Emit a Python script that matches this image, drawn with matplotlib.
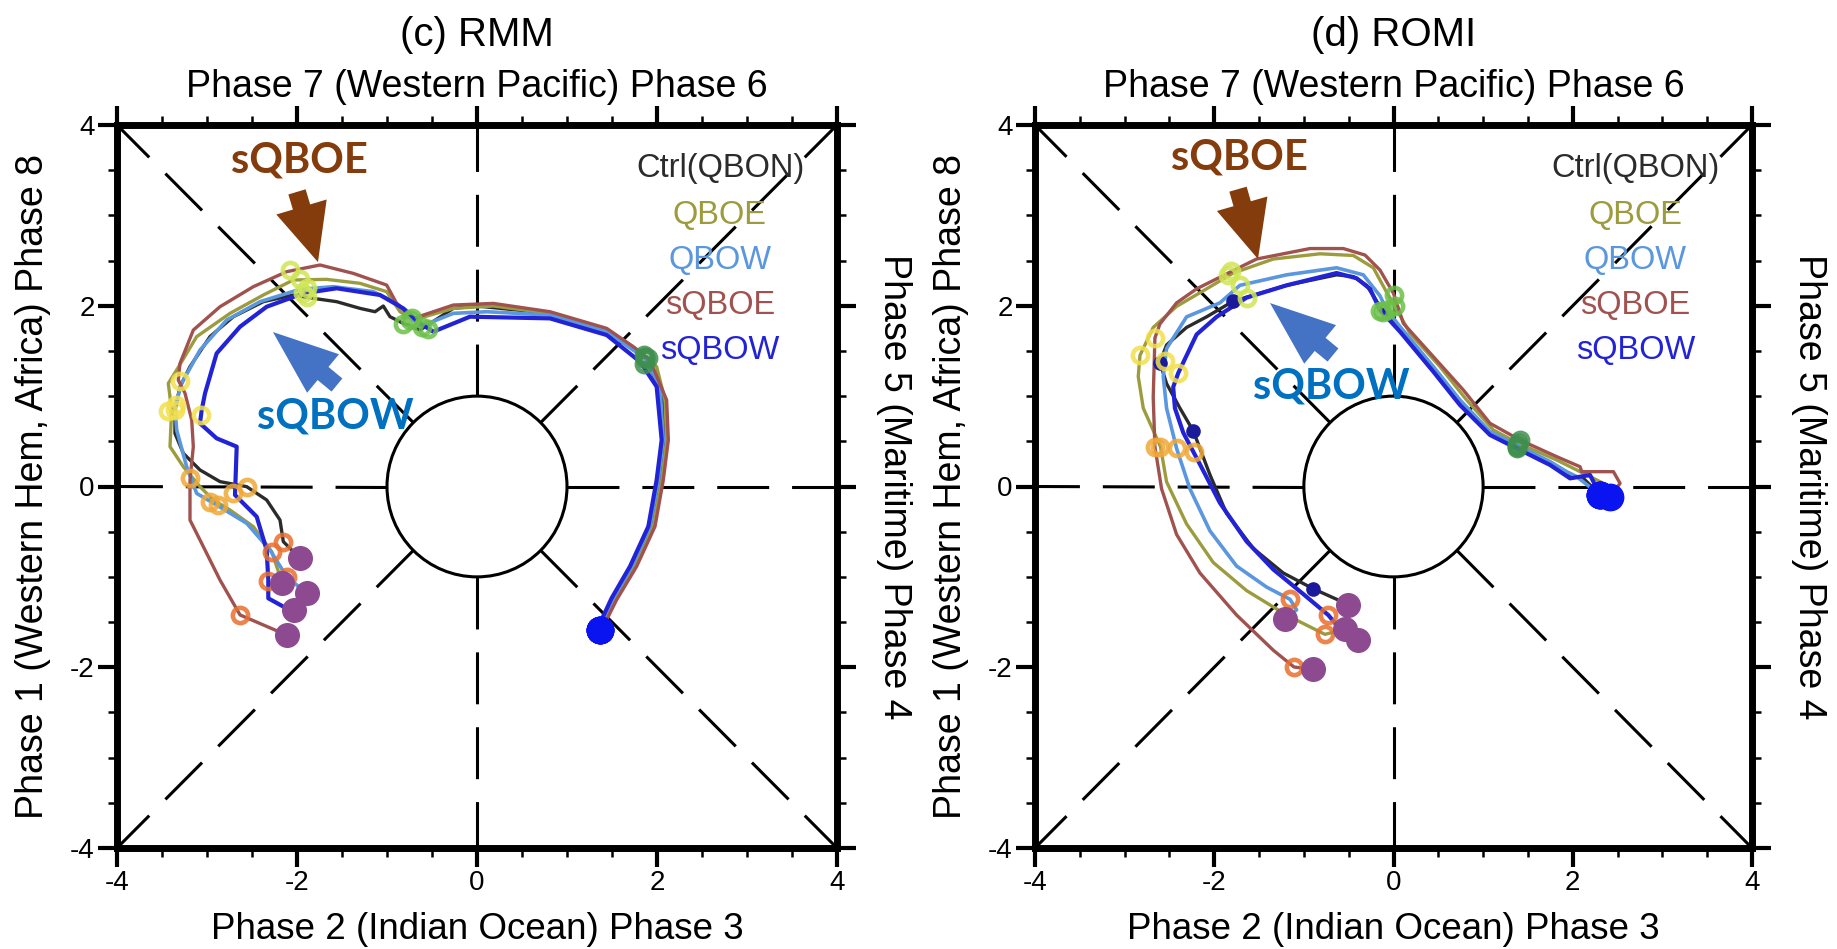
import numpy as np
import matplotlib
matplotlib.use("Agg")
import matplotlib.pyplot as plt
from matplotlib.patches import Circle
from matplotlib.ticker import MultipleLocator

plt.rcParams['font.family'] = ['Liberation Sans', 'DejaVu Sans']
plt.rcParams['axes.unicode_minus'] = False

# ---------------- data ----------------
series_names = ['Ctrl(QBON)', 'QBOE', 'QBOW', 'sQBOE', 'sQBOW']
series_colors = ['#2b2b2b', '#9c9c3e', '#5a97de', '#a0524e', '#2323d6']
series_lw = [2.4, 2.4, 2.6, 2.4, 3.0]

stage_colors = ['#e8702e', '#f0a838', '#f2e04e', '#cfe655', '#6cc04a', '#3f8f4f']
start_color = '#8d4a91'
end_color = '#0a14f0'
navy_color = '#1a1a9a'

# (c) RMM trajectories
rmm_ctrl = [(-1.967, -0.795), (-2.152, -0.610), (-2.189, -0.371), (-2.337, -0.149), (-2.559, -0.002),
            (-2.856, 0.054), (-3.078, 0.183), (-3.263, 0.367), (-3.356, 0.588), (-3.356, 0.846),
            (-3.300, 1.104), (-3.189, 1.326), (-2.967, 1.658), (-2.707, 1.879), (-2.374, 2.045),
            (-2.041, 2.119), (-1.819, 2.082), (-1.559, 2.045), (-1.300, 1.971), (-1.133, 1.934),
            (-1.041, 1.997), (-0.967, 1.879), (-0.819, 1.805), (-0.633, 1.731), (-0.263, 1.971),
            (0.0, 1.997), (0.811, 1.916), (1.441, 1.713), (1.867, 1.436), (2.052, 1.031),
            (2.089, 0.515), (2.033, 0.072), (1.941, -0.441), (1.737, -0.884), (1.533, -1.235),
            (1.404, -1.511), (1.367, -1.587)]
rmm_qboe = [(-2.163, -1.071), (-2.281, -0.721), (-2.485, -0.444), (-2.744, -0.260), (-2.930, -0.149),
            (-3.078, -0.002), (-3.263, 0.219), (-3.411, 0.441), (-3.393, 0.846), (-3.430, 1.141),
            (-3.337, 1.289), (-3.115, 1.658), (-2.744, 1.916), (-2.374, 2.119), (-2.041, 2.285),
            (-1.670, 2.292), (-1.300, 2.248), (-1.004, 2.156), (-0.856, 1.934), (-0.707, 1.842),
            (-0.263, 1.971), (0.181, 1.997), (0.811, 1.916), (1.441, 1.732), (1.811, 1.492),
            (1.996, 1.326), (2.089, 0.957), (2.107, 0.515), (2.052, 0.072), (1.959, -0.441),
            (1.756, -0.884), (1.544, -1.246), (1.411, -1.511), (1.367, -1.587)]
rmm_qbow = [(-1.893, -1.181), (-2.115, -0.997), (-2.300, -0.703), (-2.559, -0.407), (-2.893, -0.205),
            (-3.115, -0.076), (-3.226, 0.219), (-3.337, 0.625), (-3.356, 0.883), (-3.281, 1.141),
            (-3.078, 1.510), (-2.781, 1.842), (-2.411, 2.045), (-1.967, 2.182), (-1.596, 2.211),
            (-1.152, 2.156), (-0.893, 2.026), (-0.633, 1.768), (-0.263, 1.916), (0.107, 1.934),
            (0.811, 1.897), (1.441, 1.713), (1.867, 1.418), (2.033, 1.105), (2.070, 0.515),
            (2.015, 0.072), (1.922, -0.441), (1.719, -0.884), (1.515, -1.235), (1.385, -1.511),
            (1.367, -1.587)]
rmm_sqboe = [(-2.115, -1.643), (-2.633, -1.421), (-2.856, -1.034), (-3.041, -0.665), (-3.189, -0.371),
             (-3.189, 0.072), (-3.152, 0.441), (-3.170, 0.736), (-3.244, 1.031), (-3.319, 1.178),
             (-3.300, 1.362), (-3.152, 1.731), (-2.856, 1.989), (-2.485, 2.211), (-2.115, 2.377),
             (-1.744, 2.451), (-1.374, 2.358), (-1.004, 2.229), (-0.893, 2.026), (-0.707, 1.860),
             (-0.263, 2.008), (0.181, 2.026), (0.811, 1.934), (1.441, 1.750), (1.737, 1.547),
             (1.922, 1.399), (2.107, 0.957), (2.126, 0.515), (2.070, 0.072), (1.978, -0.441),
             (1.774, -0.884), (1.552, -1.253), (1.422, -1.511), (1.367, -1.587)]
rmm_sqbow = [(-2.033, -1.366), (-2.152, -1.329), (-2.319, -1.237), (-2.319, -1.034), (-2.337, -0.703),
             (-2.448, -0.334), (-2.689, -0.094), (-2.670, 0.441), (-2.893, 0.533), (-3.078, 0.699),
             (-3.059, 0.846), (-3.022, 1.031), (-2.893, 1.473), (-2.633, 1.768), (-2.337, 1.989),
             (-1.930, 2.137), (-1.559, 2.193), (-1.078, 2.119), (-0.819, 1.971), (-0.633, 1.805),
             (-0.485, 1.713), (-0.078, 1.879), (0.811, 1.860), (1.441, 1.676), (1.811, 1.381),
             (1.996, 1.105), (2.052, 0.515), (1.996, 0.072), (1.904, -0.441), (1.700, -0.884),
             (1.496, -1.235), (1.367, -1.511), (1.367, -1.587)]

# (c) RMM stage markers (orange, amber, yellow, yellow-green, green, dark green)
rmm_ctrl_m = [(-2.152, -0.610), (-2.559, 0.000), (-3.356, 0.850), (-1.893, 2.100), (-0.820, 1.800), (1.870, 1.430)]
rmm_qboe_m = [(-2.281, -0.721), (-2.967, -0.168), (-3.430, 0.830), (-1.967, 2.300), (-0.750, 1.840), (1.860, 1.450)]
rmm_qbow_m = [(-2.115, -0.997), (-2.874, -0.205), (-3.350, 0.900), (-1.893, 2.200), (-0.610, 1.760), (1.870, 1.410)]
rmm_sqboe_m = [(-2.633, -1.421), (-3.189, 0.090), (-3.300, 1.170), (-2.078, 2.395), (-0.720, 1.860), (1.900, 1.420)]
rmm_sqbow_m = [(-2.319, -1.050), (-2.707, -0.076), (-3.070, 0.790), (-1.930, 2.140), (-0.550, 1.740), (1.850, 1.350)]

# (d) ROMI trajectories
romi_ctrl = [(-0.504, -1.306), (-0.895, -1.132), (-1.230, -0.957), (-1.565, -0.685), (-1.863, -0.297),
             (-2.048, 0.130), (-2.234, 0.615), (-2.383, 0.867), (-2.532, 1.139), (-2.606, 1.372),
             (-2.532, 1.566), (-2.309, 1.760), (-2.086, 1.877), (-1.788, 2.051), (-1.193, 2.226),
             (-0.635, 2.342), (-0.448, 2.323), (-0.300, 2.226), (-0.151, 1.993), (0.073, 1.732),
             (0.445, 1.290), (0.742, 0.920), (1.077, 0.588), (1.375, 0.441), (1.747, 0.256),
             (1.970, 0.127), (2.119, 0.090), (2.305, -0.094)]
romi_qboe = [(-0.541, -1.578), (-0.765, -1.636), (-1.193, -1.423), (-1.639, -1.152), (-2.011, -0.841),
             (-2.309, -0.414), (-2.532, 0.052), (-2.600, 0.441), (-2.792, 0.867), (-2.848, 1.217),
             (-2.829, 1.450), (-2.681, 1.760), (-2.420, 1.993), (-2.086, 2.187), (-1.788, 2.362),
             (-1.341, 2.517), (-0.820, 2.575), (-0.448, 2.556), (-0.225, 2.420), (-0.076, 2.148),
             (0.017, 1.993), (0.184, 1.694), (0.519, 1.326), (0.816, 0.957), (1.114, 0.625),
             (1.393, 0.478), (1.821, 0.293), (2.119, 0.146), (2.342, 0.035), (2.305, -0.094)]
romi_qbow = [(-1.211, -1.462), (-1.081, -1.365), (-1.155, -1.248), (-1.416, -1.113), (-1.751, -0.880),
             (-2.048, -0.491), (-2.272, -0.025), (-2.420, 0.421), (-2.532, 0.867), (-2.569, 1.217),
             (-2.532, 1.527), (-2.309, 1.877), (-1.937, 2.032), (-1.714, 2.226), (-1.193, 2.342),
             (-0.635, 2.420), (-0.337, 2.342), (-0.151, 2.110), (-0.076, 1.955), (0.073, 1.769),
             (0.445, 1.326), (0.742, 0.957), (1.077, 0.607), (1.375, 0.459), (1.747, 0.275),
             (1.933, 0.164), (2.044, 0.109), (2.305, -0.094)]
romi_sqboe = [(-0.895, -2.024), (-1.111, -1.997), (-1.341, -1.812), (-1.750, -1.423), (-2.160, -0.957),
              (-2.420, -0.531), (-2.588, -0.025), (-2.662, 0.441), (-2.681, 0.984), (-2.662, 1.644),
              (-2.606, 1.799), (-2.420, 2.032), (-2.197, 2.187), (-1.806, 2.381), (-1.527, 2.517),
              (-0.932, 2.633), (-0.560, 2.633), (-0.318, 2.561), (-0.151, 2.395), (0.000, 2.137),
              (0.110, 1.805), (0.445, 1.436), (0.780, 1.067), (1.077, 0.699), (1.412, 0.514),
              (1.821, 0.330), (2.081, 0.219), (2.100, 0.164), (2.454, 0.164), (2.528, 0.035),
              (2.416, -0.112)]
romi_sqbow = [(-0.392, -1.695), (-0.597, -1.578), (-0.727, -1.423), (-1.007, -1.190), (-1.341, -0.918),
              (-1.639, -0.608), (-1.937, -0.181), (-2.160, 0.246), (-2.346, 0.596), (-2.439, 0.867),
              (-2.458, 1.100), (-2.402, 1.255), (-2.197, 1.682), (-1.974, 1.877), (-1.639, 2.090),
              (-1.193, 2.226), (-0.635, 2.362), (-0.411, 2.304), (-0.262, 2.187), (-0.151, 1.955),
              (0.073, 1.713), (0.445, 1.270), (0.742, 0.901), (1.077, 0.570), (1.375, 0.422),
              (1.747, 0.238), (1.970, 0.090), (2.193, 0.127), (2.305, -0.094)]

# (d) ROMI stage markers
romi_ctrl_m = [(-0.895, -1.132), (-2.234, 0.615), (-2.606, 1.372), (-1.788, 2.051), (-0.120, 1.930), (1.375, 0.441)]
romi_ctrl_mstyle = ['navy', 'navy', 'navy', 'navy', 'ring', 'ring']
romi_qboe_m = [(-0.765, -1.636), (-2.600, 0.441), (-2.829, 1.450), (-1.850, 2.340), (0.017, 1.993), (1.393, 0.478)]
romi_qbow_m = [(-1.155, -1.248), (-2.420, 0.421), (-2.550, 1.390), (-1.714, 2.226), (-0.076, 1.955), (1.375, 0.459)]
romi_sqboe_m = [(-1.111, -1.997), (-2.662, 0.441), (-2.662, 1.644), (-1.810, 2.390), (0.000, 2.120), (1.412, 0.514)]
romi_sqbow_m = [(-0.727, -1.423), (-2.230, 0.380), (-2.402, 1.255), (-1.639, 2.090), (-0.151, 1.940), (1.375, 0.422)]

legend_y = [3.52, 3.0, 2.5, 2.0, 1.51]
legend_x = 2.70
tick_values = [-4, -2, 0, 2, 4]

panels = [
    dict(title='(c) RMM',
         paths=[rmm_ctrl, rmm_qboe, rmm_qbow, rmm_sqboe, rmm_sqbow],
         marks=[rmm_ctrl_m, rmm_qboe_m, rmm_qbow_m, rmm_sqboe_m, rmm_sqbow_m],
         styles=[['ring'] * 6] * 5,
         sqboe_text=(-1.978, 3.61), sqboe_tail=(-2.0, 3.26), sqboe_tip=(-1.767, 2.483),
         sqbow_text=(-1.578, 0.78), sqbow_tail=(-1.556, 1.123), sqbow_tip=(-2.267, 1.709),
         rect=[117 / 1837, 101 / 949, 720 / 1837, 723 / 949]),
    dict(title='(d) ROMI',
         paths=[romi_ctrl, romi_qboe, romi_qbow, romi_sqboe, romi_sqbow],
         marks=[romi_ctrl_m, romi_qboe_m, romi_qbow_m, romi_sqboe_m, romi_sqbow_m],
         styles=[romi_ctrl_mstyle] + [['ring'] * 6] * 4,
         sqboe_text=(-1.724, 3.64), sqboe_tail=(-1.735, 3.29), sqboe_tip=(-1.512, 2.517),
         sqbow_text=(-0.697, 1.11), sqbow_tail=(-0.675, 1.455), sqbow_tip=(-1.378, 2.03),
         rect=[1035 / 1837, 101 / 949, 717 / 1837, 723 / 949]),
]

# ---------------- figure ----------------
fig = plt.figure(figsize=(18.37, 9.49), dpi=100)
fig.patch.set_facecolor('white')

for p in panels:
    ax = fig.add_axes(p['rect'])
    ax.set_xlim(-4, 4)
    ax.set_ylim(-4, 4)

    # phase diagram background
    for k in range(8):
        ang = np.deg2rad(45 * k)
        rmax = 4.0 if k % 2 == 0 else 4.0 * np.sqrt(2)
        ax.plot([np.cos(ang), rmax * np.cos(ang)], [np.sin(ang), rmax * np.sin(ang)],
                color='black', lw=2.2, ls=(0, (17, 7.5)), zorder=1, solid_capstyle='butt')
    ax.add_patch(Circle((0, 0), 1.0, fill=False, lw=2.2, ec='black', zorder=1))

    # trajectories
    for path, col, lw in zip(p['paths'], series_colors, series_lw):
        arr = np.array(path)
        ax.plot(arr[:, 0], arr[:, 1], color=col, lw=lw, zorder=3, solid_joinstyle='round')

    # stage markers
    for marks, styles in zip(p['marks'], p['styles']):
        for (mx, my), st, sc in zip(marks, styles, stage_colors):
            if st == 'navy':
                ax.plot(mx, my, 'o', ms=9.5, color=navy_color, zorder=5)
            else:
                ax.plot(mx, my, 'o', ms=11, mfc='none', mec=sc, mew=3.3, alpha=0.85, zorder=5)

    # start and end points
    for path in p['paths']:
        ax.plot(path[0][0], path[0][1], 'o', ms=17, color=start_color, zorder=6)
        ax.plot(path[-1][0], path[-1][1], 'o', ms=19, color=end_color, zorder=6)

    # legend text
    for name, col, ly in zip(series_names, series_colors, legend_y):
        ax.text(legend_x, ly, name, color=col, fontsize=23.5, ha='center', va='center', zorder=7)

    # annotations
    ax.annotate('', xy=p['sqboe_tip'], xytext=p['sqboe_tail'],
                arrowprops=dict(arrowstyle='simple,head_length=1.15,head_width=1.05,tail_width=0.36',
                                fc='#843c0c', ec='none', mutation_scale=36, shrinkA=0, shrinkB=0),
                zorder=8)
    ax.text(*p['sqboe_text'], 'sQBOE', color='#843c0c', fontsize=30, fontweight='bold',
            family=['Lato', 'DejaVu Sans'], ha='center', va='center', zorder=8)
    ax.annotate('', xy=p['sqbow_tip'], xytext=p['sqbow_tail'],
                arrowprops=dict(arrowstyle='simple,head_length=1.3,head_width=1.0,tail_width=0.34',
                                fc='#4472c4', ec='none', mutation_scale=36, shrinkA=0, shrinkB=0),
                zorder=8)
    ax.text(*p['sqbow_text'], 'sQBOW', color='#0070c0', fontsize=30, fontweight='bold',
            family=['Lato', 'DejaVu Sans'], ha='center', va='center', zorder=8)

    # axes styling
    for side in ['top', 'bottom', 'left', 'right']:
        ax.spines[side].set_linewidth(5)
        ax.spines[side].set_capstyle('projecting')
    ax.set_xticks(tick_values)
    ax.set_yticks(tick_values)
    ax.xaxis.set_minor_locator(MultipleLocator(0.5))
    ax.yaxis.set_minor_locator(MultipleLocator(0.5))
    ax.tick_params(which='both', direction='out', top=True, right=True,
                   labeltop=False, labelright=False)
    ax.tick_params(which='major', length=14, width=3, labelsize=20, pad=2)
    ax.tick_params(which='minor', length=6.5, width=1.8)

    # labels
    ax.text(0.5, 1.1245, p['title'], transform=ax.transAxes, ha='center', va='center', fontsize=29)
    ax.text(0.5, 1.0526, 'Phase 7 (Western Pacific) Phase 6', transform=ax.transAxes,
            ha='center', va='center', fontsize=27)
    ax.text(0.5, -0.1125, 'Phase 2 (Indian Ocean) Phase 3', transform=ax.transAxes,
            ha='center', va='center', fontsize=26.5)
    ax.text(-0.1167, 0.5, 'Phase 1 (Western Hem, Africa) Phase 8', transform=ax.transAxes,
            ha='center', va='center', rotation=90, fontsize=27)
    ax.text(1.079, 0.5, 'Phase 5 (Maritime) Phase 4', transform=ax.transAxes,
            ha='center', va='center', rotation=-90, fontsize=27)

fig.savefig('out.png', dpi=100, facecolor='white')
